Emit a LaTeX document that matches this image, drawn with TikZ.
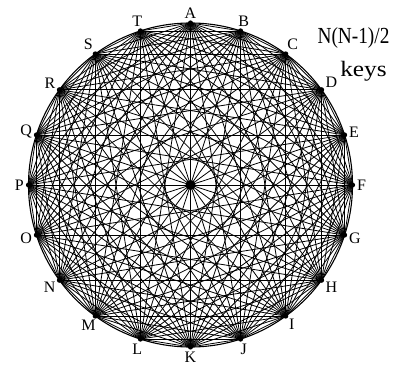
\documentclass[tikz,border=0pt]{standalone}
\usepackage{fontspec}
\setmainfont{Liberation Serif}
\usetikzlibrary{calc}
\begin{document}
\begin{tikzpicture}[x=1pt,y=-1pt,
  edge/.style={line width=0.8pt},
  rim/.style={line width=1.1pt},
  lab/.style={font=\fontsize{16}{16}\selectfont, inner sep=1.5pt},
  note/.style={font=\fontsize{23}{23}\selectfont, inner sep=0pt, anchor=base}]
\useasboundingbox (0,0) rectangle (412,366);
\coordinate (c) at (190.5,185);
\draw[rim] (c) circle[radius=162];
\foreach \l [count=\i from 0] in {A,B,C,D,E,F,G,H,I,J,K,L,M,N,O,P,Q,R,S,T} {
  \coordinate (v\i) at ($(c)+(-90+18*\i:162)$);
  \pgfmathsetmacro{\an}{270-18*\i}
  \node[lab, anchor=\an] (t\i) at ($(c)+(-90+18*\i:165)$) {\l};
}
\foreach \i in {0,...,18} {
  \pgfmathtruncatemacro{\s}{\i+1}
  \foreach \j in {\s,...,19} {
    \draw[edge] (v\i) -- (v\j);
  }
}
\foreach \i in {0,...,19} \fill (v\i) circle[radius=2.6];
\fill (c) circle[radius=5];
\node[note] (n1) at (353.5,44) {\scalebox{0.84}[1]{N(N-1)/2}};
\node[note] (n2) at (363.5,77) {\fontsize{22}{22}\selectfont\scalebox{1.15}[1]{keys}};
\end{tikzpicture}
\end{document}
